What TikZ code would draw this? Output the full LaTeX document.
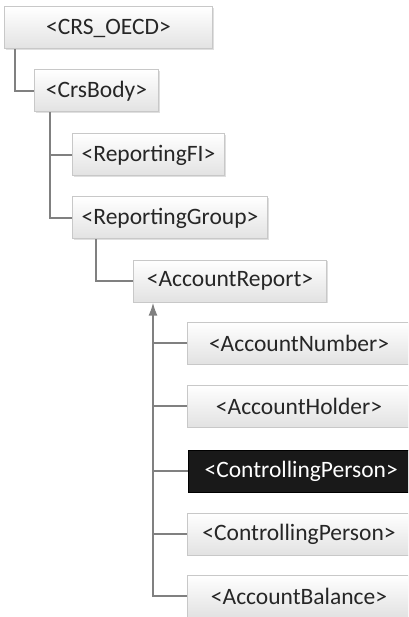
\documentclass[tikz,border=0pt]{standalone}
\usepackage{fontspec}
\setmainfont{Carlito}
\usetikzlibrary{arrows.meta,positioning,shadows}
\definecolor{linegray}{RGB}{128,128,128}
\definecolor{boxline}{RGB}{200,200,200}
\definecolor{boxlow}{RGB}{226,226,226}

\begin{document}
\begin{tikzpicture}[
  x=1pt, y=-1pt,
  >={Latex[length=13pt,width=9pt]},
  every node/.style={font=\fontsize{23.5}{28}\selectfont, text=black!85},
  tag/.style={draw=boxline, line width=1pt, top color=white, bottom color=boxlow,
    anchor=west, minimum height=42pt, inner sep=0pt, align=center,
    drop shadow={opacity=0.25, shadow xshift=1.2pt, shadow yshift=-1.2pt}},
  tagdark/.style={draw=black, fill=black!90, text=white, anchor=west,
    minimum height=42pt, inner sep=0pt, align=center},
  wire/.style={draw=linegray, line width=2pt}
]
\useasboundingbox (0,0) rectangle (408,617);
\clip (0,0) rectangle (408,617);
\node[tag, minimum width=208pt] (oecd) at (4,28) {<CRS\_OECD>};
\node[tag, minimum width=124pt] (body) at (34,91) {<CrsBody>};
\node[tag, minimum width=152pt] (fi) at (72,155) {<ReportingFI>};
\node[tag, minimum width=195pt] (group) at (72,218) {<ReportingGroup>};
\node[tag, minimum width=193pt] (report) at (133,281) {<AccountReport>};
\node[tag, minimum width=223pt] (number) at (187,343) {<AccountNumber>};
\node[tag, minimum width=223pt] (holder) at (187,406) {<AccountHolder>};
\node[tagdark, minimum width=226pt] (person) at (188,471) {<ControllingPerson>};
\node[tag, minimum width=223pt] (person2) at (187,534) {<ControllingPerson>};
\node[tag, minimum width=223pt] (balance) at (187,596) {<AccountBalance>};
\coordinate (trunk) at (153,596);
\draw[wire] (oecd.south west) ++(11,0) |- (body.west);
\draw[wire] (body.south west) ++(16,0) |- (fi.west);
\draw[wire] (body.south west) ++(16,0) |- (group.west);
\draw[wire] (group.south west) ++(24,0) |- (report.west);
\draw[wire,->] (balance.west) -| (report.south west -| trunk);
\draw[wire] (trunk |- number) -- (number.west);
\draw[wire] (trunk |- holder) -- (holder.west);
\draw[wire] (trunk |- person) -- (person.west);
\draw[wire] (trunk |- person2) -- (person2.west);
\end{tikzpicture}
\end{document}
